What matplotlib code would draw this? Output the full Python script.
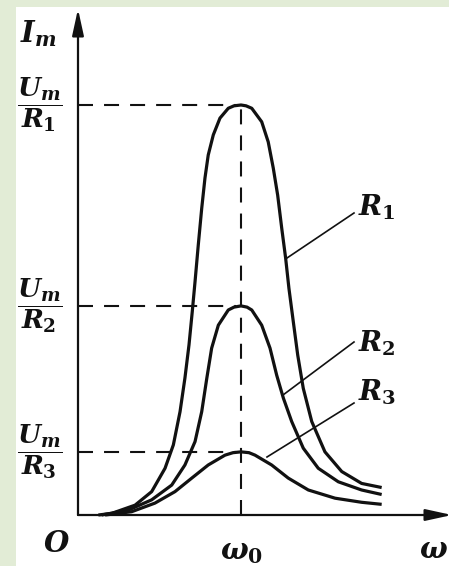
import matplotlib
matplotlib.use("Agg")
import matplotlib.pyplot as plt
from matplotlib.patches import Rectangle

plt.rcParams["mathtext.fontset"] = "custom"
plt.rcParams["mathtext.it"] = "DejaVu Serif:italic:bold"
plt.rcParams["mathtext.rm"] = "DejaVu Serif:bold"
plt.rcParams["mathtext.bf"] = "DejaVu Serif:bold"

# Resonance curves: frequency in units of omega_0, current amplitude in units of U_m/R_1
omega_r1 = [0.125, 0.207, 0.350, 0.452, 0.534, 0.585, 0.626, 0.656, 0.681, 0.701,
            0.718, 0.738, 0.759, 0.779, 0.799, 0.830, 0.871, 0.922, 0.957, 1.0,
            1.031, 1.066, 1.127, 1.167, 1.198, 1.225, 1.250, 1.274, 1.294, 1.321,
            1.348, 1.382, 1.434, 1.515, 1.618, 1.740, 1.863]
current_r1 = [0.0, 0.004, 0.024, 0.057, 0.114, 0.171, 0.252, 0.334, 0.415, 0.496,
              0.569, 0.659, 0.748, 0.822, 0.878, 0.927, 0.968, 0.992, 0.998, 1.0,
              0.998, 0.992, 0.959, 0.910, 0.846, 0.780, 0.699, 0.626, 0.553, 0.471,
              0.390, 0.309, 0.228, 0.154, 0.106, 0.077, 0.067]

omega_r2 = [0.145, 0.309, 0.452, 0.575, 0.656, 0.718, 0.759, 0.790, 0.820, 0.861,
            0.922, 0.957, 1.0, 1.037, 1.066, 1.127, 1.178, 1.219, 1.260, 1.311,
            1.382, 1.474, 1.597, 1.740, 1.863]
current_r2 = [0.0, 0.012, 0.037, 0.073, 0.122, 0.179, 0.252, 0.333, 0.407, 0.463,
              0.500, 0.507, 0.510, 0.507, 0.500, 0.463, 0.407, 0.341, 0.285, 0.228,
              0.163, 0.114, 0.081, 0.061, 0.050]

omega_r3 = [0.166, 0.329, 0.472, 0.595, 0.698, 0.799, 0.902, 0.951, 1.0, 1.049,
            1.086, 1.188, 1.290, 1.413, 1.577, 1.740, 1.863]
current_r3 = [0.0, 0.008, 0.029, 0.057, 0.090, 0.122, 0.146, 0.152, 0.154, 0.152,
              0.146, 0.122, 0.090, 0.061, 0.041, 0.031, 0.026]

curve_names = ["1", "2", "3"]

W, H = 449, 566
X0, Y0 = 78, 515      # origin position in pixels
SX, SY = 163, 410     # pixels per unit

fig = plt.figure(figsize=(W / 100, H / 100), dpi=100)
fig.patch.set_facecolor("white")
ax = fig.add_axes([0, 0, 1, 1])
ax.set_xlim(-X0 / SX, (W - X0) / SX)
ax.set_ylim(-(H - Y0) / SY, Y0 / SY)
ax.axis("off")


def px(x, y):
    """Pixel position -> data coordinates."""
    return (x - X0) / SX, (Y0 - y) / SY


# pale green frame
fig.patches.append(Rectangle((0, 0), 16 / W, 1, transform=fig.transFigure,
                             facecolor="#e2ecd6", edgecolor="none", zorder=0))
fig.patches.append(Rectangle((0, 1 - 7 / H), 1, 7 / H, transform=fig.transFigure,
                             facecolor="#e2ecd6", edgecolor="none", zorder=0))

ink = "#111111"
arrow = dict(arrowstyle="-|>,head_length=1.6,head_width=0.35", color=ink, lw=1.6,
             shrinkA=0, shrinkB=0)
ax.annotate("", xy=px(X0, 9), xytext=(0, 0), arrowprops=arrow)
ax.annotate("", xy=px(452, Y0), xytext=(0, 0), arrowprops=arrow, annotation_clip=False)

dash = (7.2, 5.3)
series = [(omega_r1, current_r1), (omega_r2, current_r2), (omega_r3, current_r3)]
for om, cur in series:
    ax.plot(om, cur, color=ink, lw=2.3, solid_capstyle="butt", solid_joinstyle="round",
            zorder=3)
    peak = max(cur)
    ax.plot([0, 0.97], [peak, peak], color=ink, lw=1.5, dashes=dash, zorder=2)

# vertical dashed line at the resonance frequency
ax.plot([1.0, 1.0], [0, max(current_r1)], color=ink, lw=1.5, dashes=dash, zorder=2)

# leader lines to the curve labels
leaders = [((287, 258), (354, 213)), ((283, 395), (354, 342)), ((267, 457), (354, 403))]
for (a, b) in leaders:
    xa, ya = px(*a)
    xb, yb = px(*b)
    ax.plot([xa, xb], [ya, yb], color=ink, lw=1.2, zorder=4)

label_pos = [(358, 207), (358, 343), (358, 392)]
for name, pos in zip(curve_names, label_pos):
    ax.text(*px(*pos), rf"$R_{name}$", fontsize=20, ha="left", va="center", color=ink)

# fraction labels on the current axis
for name, om_cur in zip(curve_names, series):
    peak = max(om_cur[1])
    ax.text(px(40, 0)[0], peak, rf"$\dfrac{{U_m}}{{R_{name}}}$", fontsize=19,
            ha="center", va="center", color=ink)

ax.text(*px(20, 34), r"$I_m$", fontsize=21, ha="left", va="center", color=ink)
ax.text(*px(57, 544), r"$O$", fontsize=21, ha="center", va="center", color=ink)
ax.text(*px(241, 552), r"$\omega_0$", fontsize=21, ha="center", va="center", color=ink)
ax.text(*px(448, 550), r"$\omega$", fontsize=21, ha="right", va="center", color=ink)

fig.savefig("out.png", dpi=100, facecolor="white")
